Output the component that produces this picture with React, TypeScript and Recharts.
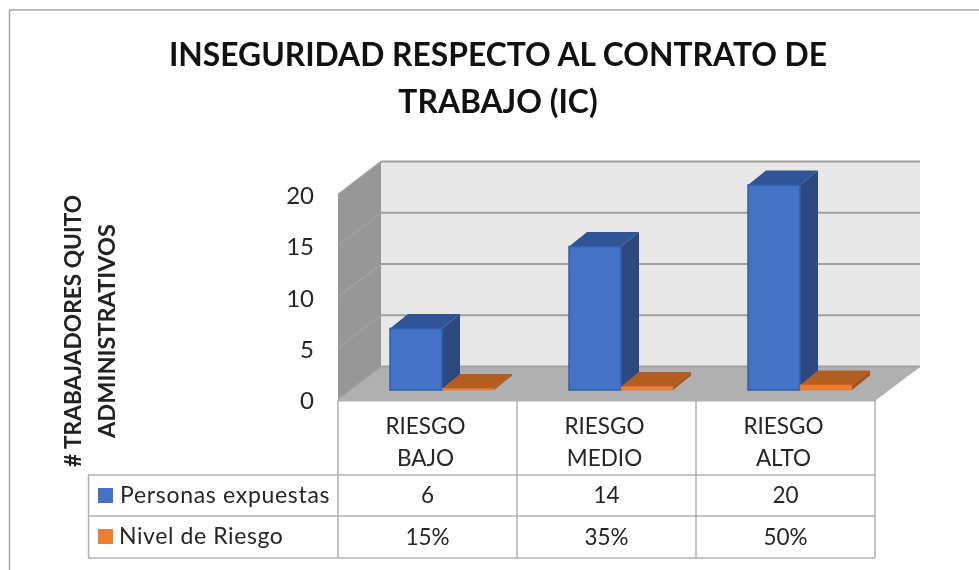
import React from "react";
import { BarChart, Bar, XAxis, YAxis, CartesianGrid, Customized } from "recharts";

const categories = [["RIESGO", "BAJO"], ["RIESGO", "MEDIO"], ["RIESGO", "ALTO"]];
const personasExpuestas = [6, 14, 20];
const nivelRiesgo = [0.15, 0.35, 0.5];
const nivelRiesgoLabels = ["15%", "35%", "50%"];
const yTicks = [0, 5, 10, 15, 20];
const titleLines = ["INSEGURIDAD RESPECTO AL CONTRATO DE", "TRABAJO (IC)"];
const yTitleLines = ["# TRABAJADORES QUITO", "ADMINISTRATIVOS"];
const seriesNames = ["Personas expuestas", "Nivel de Riesgo"];

const rows = categories.map((c, i) => ({
  name: c.join(" "),
  personas: personasExpuestas[i],
  nivel: nivelRiesgo[i],
}));

const FONT = "Lato, Carlito, sans-serif";
const TXT = "#262626";
const LINE = "#b0b0b0";
const DX = 18;
const DY = 14.5;
const FRONT_L = 338;
const FRONT_R = 876;
const BACK_L = 381;
const BACK_R = 920;
const FLOOR_F = 400;
const FLOOR_B = 367;
const TOP_F = 194;
const TOP_B = 161;

const box = (c: { front: string; top: string; side: string; edge: string }) => (p: any) => {
  const { x, y, width, height } = p;
  const r = x + width;
  const b = y + height;
  return (
    <g>
      <polygon points={`${r},${y} ${r + DX},${y - DY} ${r + DX},${b - DY} ${r},${b}`} fill={c.side} />
      <polygon points={`${x},${y} ${x + DX},${y - DY} ${r + DX},${y - DY} ${r},${y}`} fill={c.top} />
      <rect x={x} y={y} width={width} height={height} fill={c.front} stroke={c.edge} strokeWidth={height > 8 ? 1.5 : 0.5} />
    </g>
  );
};
const blueBox = box({ front: "#4472c4", top: "#2f5597", side: "#2c4a80", edge: "#2f5fae" });
const orangeBox = box({ front: "#ed7d31", top: "#b45d21", side: "#a4541d", edge: "#d86f28" });

function Backdrop() {
  return (
    <svg width={979} height={570} style={{ position: "absolute", left: 0, top: 0 }}>
      <polygon points={`${BACK_L},${TOP_B} ${BACK_R},${TOP_B} ${BACK_R},${FLOOR_B} ${BACK_L},${FLOOR_B}`} fill="#e7e7e7" />
      <polygon points={`${FRONT_L},${TOP_F} ${BACK_L},${TOP_B} ${BACK_L},${FLOOR_B} ${FRONT_L},${FLOOR_F}`} fill="#979797" />
      <polygon points={`${FRONT_L},${FLOOR_F} ${BACK_L},${FLOOR_B} ${BACK_R},${FLOOR_B} ${FRONT_R},${FLOOR_F}`} fill="#b0b0b0" />
      <line x1={FRONT_L} y1={FLOOR_F + 0.5} x2={FRONT_R} y2={FLOOR_F + 0.5} stroke={LINE} strokeWidth={2} />
      <line x1={9.5} y1={10} x2={9.5} y2={570} stroke="#a6a6a6" strokeWidth={1.5} />
      <line x1={9} y1={10} x2={979} y2={10} stroke="#a6a6a6" strokeWidth={1.5} />
    </svg>
  );
}

function Texts() {
  return (
    <g fontFamily={FONT}>
      {titleLines.map((t, i) => (
        <text key={t} x={498} y={66 + i * 47} textAnchor="middle" fontSize={31.8} fontWeight={700} fill="#111">{t}</text>
      ))}
      {yTitleLines.map((t, i) => (
        <text key={t} transform={`translate(${81 + i * 34},331) rotate(-90)`} textAnchor="middle" fontSize={i === 0 ? 22.7 : 23.5} fontWeight={700} fill="#222">{t}</text>
      ))}
      <line x1={88} y1={475} x2={FRONT_L} y2={475} stroke={LINE} strokeWidth={1.5} />
      <line x1={88} y1={516} x2={FRONT_L} y2={516} stroke={LINE} strokeWidth={1.5} />
      <line x1={88} y1={558} x2={FRONT_L} y2={558} stroke={LINE} strokeWidth={1.5} />
      <line x1={88.5} y1={475} x2={88.5} y2={558} stroke={LINE} strokeWidth={1.5} />
      <rect x={98} y={488} width={15} height={15} fill="#4472c4" />
      <rect x={98} y={529} width={15} height={15} fill="#ed7d31" />
      <text x={120} y={503} fontSize={23} fill={TXT} letterSpacing={0.7}>{seriesNames[0]}</text>
      <text x={119} y={544} fontSize={23} fill={TXT} letterSpacing={0.6}>{seriesNames[1]}</text>
    </g>
  );
}

function XTick(p: any) {
  const i = p.payload.index;
  const cx = p.x - 14;
  const tx = cx - 2;
  const left = cx - 89.5;
  const right = cx + 89.5;
  return (
    <g fontFamily={FONT} fontSize={22.5} fill={TXT} textAnchor="middle">
      <line x1={left} y1={400} x2={left} y2={558} stroke={LINE} strokeWidth={1.5} />
      {i === categories.length - 1 && <line x1={right} y1={400} x2={right} y2={558} stroke={LINE} strokeWidth={1.5} />}
      <line x1={left} y1={475} x2={right} y2={475} stroke={LINE} strokeWidth={1.5} />
      <line x1={left} y1={516} x2={right} y2={516} stroke={LINE} strokeWidth={1.5} />
      <line x1={left} y1={558} x2={right} y2={558} stroke={LINE} strokeWidth={1.5} />
      <text x={tx} y={434} fill={TXT}>{categories[i][0]}</text>
      <text x={tx} y={466} fill={TXT}>{categories[i][1]}</text>
      <text x={cx} y={503} fill={TXT}>{personasExpuestas[i]}</text>
      <text x={cx} y={545} fill={TXT}>{nivelRiesgoLabels[i]}</text>
    </g>
  );
}

function YTick(p: any) {
  return (
    <text x={314} y={p.y + 19} textAnchor="end" fontFamily={FONT} fontSize={24} fill={TXT}>
      {p.payload.value}
    </text>
  );
}

function GridLine(p: any) {
  const y = p.y1;
  return (
    <g key={p.key} stroke="#a0a0a0">
      <line x1={BACK_L} y1={y - 23.5} x2={BACK_R} y2={y - 23.5} strokeWidth={2} />
      <line x1={FRONT_L} y1={y + 9.5} x2={BACK_L} y2={y - 23.5} strokeWidth={1.5} />
    </g>
  );
}

export default function App() {
  return (
    <div style={{ position: "absolute", left: 0, top: 0, width: 979, height: 570, background: "#fff", filter: "blur(0.4px)" }}>
      <Backdrop />
      <div style={{ position: "absolute", left: 0, top: 0 }}>
        <BarChart
          width={979}
          height={570}
          data={rows}
          margin={{ top: 185, bottom: 179, left: 351, right: 90 }}
          barGap={0}
          barSize={52}
        >
          <XAxis dataKey="name" height={1} axisLine={false} tickLine={false} interval={0} tick={XTick as any} />
          <YAxis width={1} domain={[0, 20]} ticks={yTicks} axisLine={false} tickLine={false} tick={YTick as any} />
          <CartesianGrid vertical={false} horizontal={GridLine as any} stroke="#a0a0a0" />
          <Bar dataKey="personas" isAnimationActive={false} shape={blueBox} />
          <Bar dataKey="nivel" isAnimationActive={false} shape={orangeBox} />
          <Customized component={Texts} />
        </BarChart>
      </div>
    </div>
  );
}
